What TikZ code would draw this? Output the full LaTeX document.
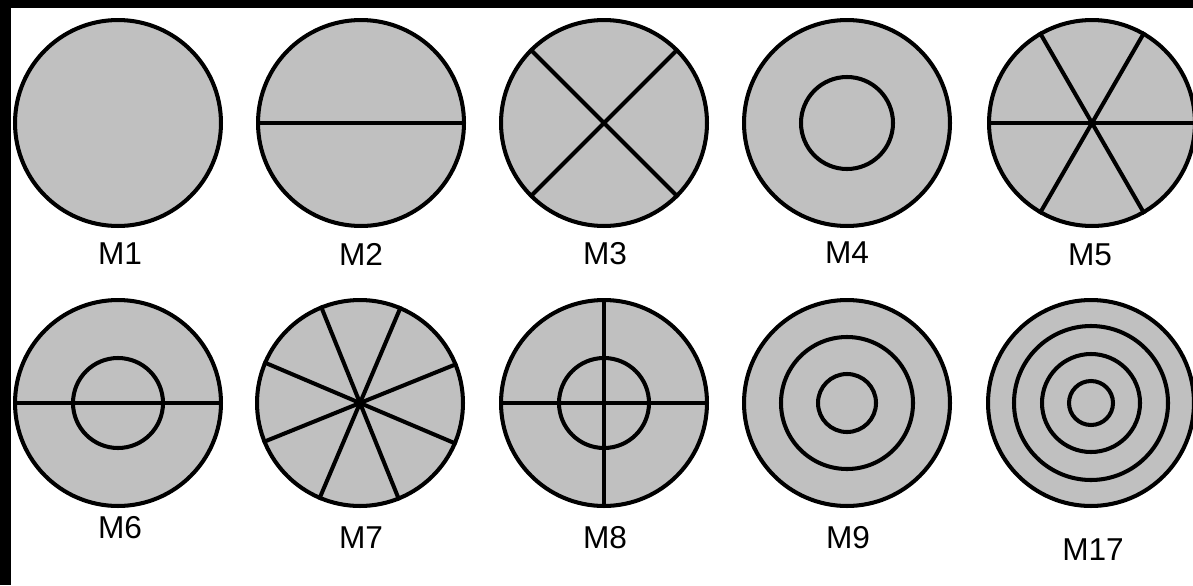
\documentclass[tikz,border=0pt]{standalone}
\usepackage{fontspec}
\setmainfont{Liberation Sans}
\definecolor{diskgray}{RGB}{192,192,192}
\tikzset{
  disk/.style={circle, draw, fill=diskgray, line width=2.3pt, minimum size=4.12cm, inner sep=0pt},
  ring/.style={line width=2.3pt},
  lab/.style={font=\fontsize{18}{21}\selectfont}
}
\begin{document}
\begin{tikzpicture}[x=0.02cm, y=-0.02cm]
    % Frame
    \useasboundingbox (0,0) rectangle (1193,585);
    \fill[white] (0,0) rectangle (1193,585);
    \fill[black] (0,0) rectangle (11,585);
    \fill[black] (0,0) rectangle (1193,8);

    % Top row
    \node[disk] (m1) at (118,123) {};
    \node[disk] (m2) at (361,123) {};
    \node[disk] (m3) at (604,123) {};
    \node[disk] (m4) at (847,123) {};
    \node[disk] (m5) at (1092,123) {};

    \draw[ring] (m2.west) -- (m2.east);
    \foreach \a/\b in {45/225, 135/315}
        \draw[ring] (m3.\a) -- (m3.\b);
    \draw[ring] (m4) circle (46);
    \foreach \a/\b in {0/180, 60/240, 120/300}
        \draw[ring] (m5.\a) -- (m5.\b);

    \node[lab] (l1) at (120,254) {M1};
    \node[lab] (l2) at (361,254) {M2};
    \node[lab] (l3) at (605,254) {M3};
    \node[lab] (l4) at (847,253) {M4};
    \node[lab] (l5) at (1090,255) {M5};

    % Bottom row
    \node[disk] (m6) at (118,403) {};
    \node[disk] (m7) at (360,403) {};
    \node[disk] (m8) at (604,403) {};
    \node[disk] (m9) at (847,403) {};
    \node[disk] (m17) at (1091,403) {};

    \draw[ring] (m6.west) -- (m6.east);
    \draw[ring] (m6) circle (45);
    \foreach \a/\b in {22.5/202.5, 67.5/247.5, 112.5/292.5, 157.5/337.5}
        \draw[ring] (m7.\a) -- (m7.\b);
    \draw[ring] (m8.west) -- (m8.east);
    \draw[ring] (m8.north) -- (m8.south);
    \draw[ring] (m8) circle (45);
    \foreach \r in {29, 66}
        \draw[ring] (m9) circle (\r);
    \foreach \r in {22, 49, 77}
        \draw[ring] (m17) circle (\r);

    \node[lab] (l6) at (120,528) {M6};
    \node[lab] (l7) at (361,538) {M7};
    \node[lab] (l8) at (605,538) {M8};
    \node[lab] (l9) at (848,538) {M9};
    \node[lab] (l17) at (1093,550) {M17};
\end{tikzpicture}
\end{document}
